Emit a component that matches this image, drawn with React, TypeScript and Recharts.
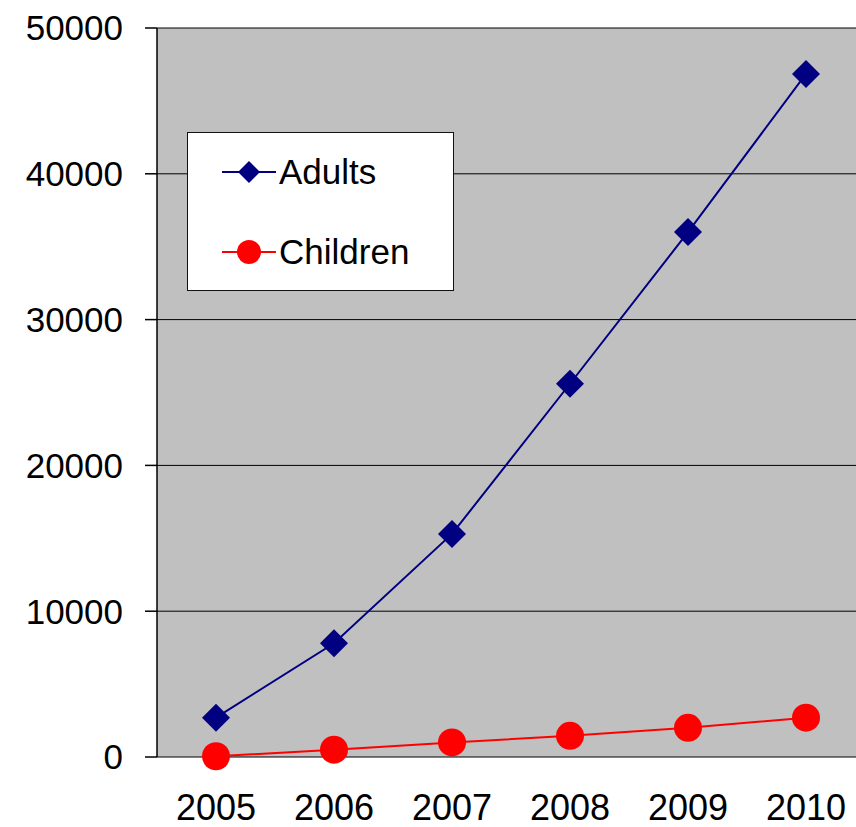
import React from 'react';
import { LineChart, Line, XAxis, YAxis, CartesianGrid } from 'recharts';

// categories and values
const years = ['2005', '2006', '2007', '2008', '2009', '2010'];
const adults = [2700, 7800, 15300, 25600, 36000, 46850];
const children = [50, 500, 1000, 1450, 2000, 2700];
const yTicks = [0, 10000, 20000, 30000, 40000, 50000];

const series = [
  { key: 'adults', name: 'Adults', color: '#000080', marker: 'diamond' },
  { key: 'children', name: 'Children', color: '#FF0000', marker: 'circle' },
];

// x is the middle of each year's band; band edges sit on whole numbers
const data = years.map((year, i) => ({
  x: i + 0.5,
  year,
  adults: adults[i],
  children: children[i],
}));
const labelTicks = years.map((_, i) => i + 0.5);
const edgeTicks = [...years.map((_, i) => i), years.length];

const FONT = '"Liberation Sans", Arial, sans-serif';

const Diamond = (props: any) => {
  const { cx, cy, fill, r = 14 } = props;
  if (cx == null || cy == null) return null;
  return (
    <polygon
      points={`${cx},${cy - r} ${cx + r},${cy} ${cx},${cy + r} ${cx - r},${cy}`}
      fill={fill}
    />
  );
};

const Circle = (props: any) => {
  const { cx, cy, fill, r = 14 } = props;
  if (cx == null || cy == null) return null;
  return <circle cx={cx} cy={cy} r={r} fill={fill} />;
};

const LegendBox = () => (
  <div
    style={{
      position: 'absolute',
      left: 187,
      top: 132,
      width: 267,
      height: 159,
      background: '#fff',
      border: '1.5px solid #111',
      boxSizing: 'border-box',
    }}
  >
    {series.map((s, i) => (
      <div
        key={s.key}
        style={{
          position: 'absolute',
          left: 33,
          top: 19 + i * 80,
          height: 40,
          display: 'flex',
          alignItems: 'center',
        }}
      >
        <svg width={56} height={40}>
          <line x1={1} x2={55} y1={20} y2={20} stroke={s.color} strokeWidth={2} />
          {s.marker === 'diamond' ? (
            <Diamond cx={28} cy={20} r={11} fill={s.color} />
          ) : (
            <Circle cx={28} cy={20} r={12} fill={s.color} />
          )}
        </svg>
        <span style={{ fontFamily: FONT, fontSize: 35, color: '#000', marginLeft: 2 }}>
          {s.name}
        </span>
      </div>
    ))}
  </div>
);

export default function App() {
  return (
    <div
      style={{
        position: 'absolute',
        left: 0,
        top: 0,
        width: 856,
        height: 827,
        overflow: 'hidden',
        background: '#fff',
      }}
    >
      <LineChart
        width={880}
        height={827}
        data={data}
        margin={{ top: 28, right: 15, bottom: 0, left: 0 }}
      >
        <CartesianGrid vertical={false} fill="#C0C0C0" stroke="#000" strokeWidth={1} />
        <XAxis
          xAxisId="edges"
          type="number"
          domain={[0, years.length]}
          ticks={edgeTicks}
          tick={false}
          tickSize={12}
          height={0}
          axisLine={{ stroke: '#000', strokeWidth: 1.5 }}
          tickLine={{ stroke: '#000', strokeWidth: 1.5 }}
        />
        <XAxis
          dataKey="x"
          type="number"
          domain={[0, years.length]}
          ticks={labelTicks}
          tickFormatter={(v: number) => years[Math.round(v - 0.5)]}
          interval={0}
          axisLine={false}
          tickLine={false}
          tickSize={12}
          tickMargin={25}
          height={70}
          tick={{ fill: '#000', fontSize: 36, fontFamily: FONT }}
        />
        <YAxis
          domain={[0, 50000]}
          ticks={yTicks}
          interval={0}
          width={157}
          tickSize={12}
          tickMargin={22}
          axisLine={{ stroke: '#000', strokeWidth: 1.5 }}
          tickLine={{ stroke: '#000', strokeWidth: 1.5 }}
          tick={{ fill: '#000', fontSize: 35, fontFamily: FONT }}
        />
        <Line
          dataKey="adults"
          name="Adults"
          stroke="#000080"
          strokeWidth={2}
          dot={<Diamond fill="#000080" r={14} />}
          activeDot={false}
          isAnimationActive={false}
        />
        <Line
          dataKey="children"
          name="Children"
          stroke="#FF0000"
          strokeWidth={2}
          dot={<Circle fill="#FF0000" r={14} />}
          activeDot={false}
          isAnimationActive={false}
        />
      </LineChart>
      <LegendBox />
    </div>
  );
}
